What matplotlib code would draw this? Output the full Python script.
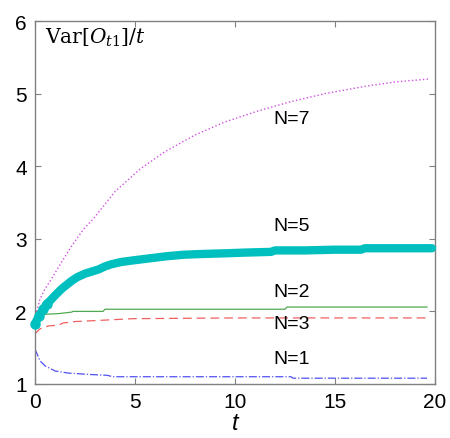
import numpy as np
import matplotlib.pyplot as plt

plt.rcParams['font.family'] = ['Liberation Sans', 'DejaVu Sans']
plt.rcParams['mathtext.fontset'] = 'dejavuserif'

# N=7 (magenta dotted)
t7 = [0, 0.25, 0.5, 0.83, 1.33, 1.83, 2.42, 2.9, 4.0, 5.25, 6.5, 8.0, 9.5,
      11.15, 12.8, 14.5, 16.5, 18.0, 19.65]
v7 = [1.9, 2.17, 2.31, 2.45, 2.68, 2.9, 3.13, 3.27, 3.65, 3.96, 4.2, 4.43, 4.61,
      4.76, 4.89, 5.0, 5.1, 5.16, 5.2]

# N=5 (cyan dots)
t5 = [0, 0.2, 0.42, 0.58, 0.8, 1.0, 1.33, 1.6, 1.83, 2.1, 2.5, 2.85, 3.2, 3.5,
      3.83, 4.3, 4.83, 5.7, 6.6, 7.4, 8.25, 9.5, 10.5, 11.8, 12.0, 13.5, 15.0,
      16.3, 16.5, 18.0, 19.85]
v5 = [1.83, 1.94, 2.03, 2.1, 2.16, 2.22, 2.31, 2.37, 2.42, 2.47, 2.52, 2.55,
      2.58, 2.62, 2.65, 2.68, 2.70, 2.73, 2.76, 2.78, 2.79, 2.80, 2.81, 2.82,
      2.84, 2.84, 2.85, 2.85, 2.87, 2.87, 2.87]

# N=2 (green solid)
t2 = [0, 0.08, 0.5, 1.2, 1.83, 1.9, 3.4, 3.5, 12.5, 12.6, 19.6]
v2 = [1.88, 1.92, 1.96, 1.97, 1.99, 2.0, 2.0, 2.03, 2.03, 2.06, 2.06]

# N=3 (red dashed)
t3 = [0, 0.25, 0.67, 1.17, 1.4, 2.0, 3.5, 4.9, 10.0, 19.6]
v3 = [1.69, 1.76, 1.80, 1.81, 1.84, 1.86, 1.88, 1.90, 1.91, 1.91]

# N=1 (blue dash-dot)
t1 = [0, 0.25, 0.5, 1.0, 1.67, 2.83, 3.6, 3.9, 12.8, 12.9, 19.6]
v1 = [1.48, 1.32, 1.25, 1.18, 1.15, 1.13, 1.12, 1.10, 1.10, 1.08, 1.08]

labels = ['N=7', 'N=5', 'N=2', 'N=3', 'N=1']
label_y = [4.66, 3.18, 2.27, 1.83, 1.35]

fig = plt.figure(figsize=(4.5, 4.39), dpi=100)
ax = fig.add_axes([35 / 450, 1 - 385 / 439, 400 / 450, 363 / 439])

ax.plot(t7, v7, ':', color='#d050e0', lw=1.0)
ax.plot(t5, v5, '-', color='#00bfbf', lw=6, solid_capstyle='round',
        solid_joinstyle='round', clip_on=False, zorder=3)
ax.plot(t5[:4], v5[:4], 'o', color='#00bfbf', ms=6.5, clip_on=False, zorder=3)
ax.plot(t2, v2, '-', color='#50a850', lw=0.9)
ax.plot(t3, v3, '--', color='#f06060', lw=0.9, dashes=(7, 4))
ax.plot(t1, v1, '-.', color='#5050f0', lw=0.9)

for lab, y in zip(labels, label_y):
    ax.text(12.85, y, lab, fontsize=14, ha='center', va='center')

ax.text(0.5, 5.78, r'$\mathrm{Var}[O_{t1}]/t$', fontsize=14.5,
        ha='left', va='center')

ax.set_xlim(0, 20)
ax.set_ylim(1, 6)
ax.set_xticks([0, 5, 10, 15, 20])
ax.set_yticks([1, 2, 3, 4, 5, 6])
ax.tick_params(direction='in', top=True, right=True, length=4, width=0.8,
               color='#808080', labelcolor='black', labelsize=15, pad=6)
for s in ax.spines.values():
    s.set_color('#808080')
    s.set_linewidth(1.0)
ax.set_xlabel('t', fontsize=17, style='italic', labelpad=0)

fig.savefig('out.png', dpi=100)
